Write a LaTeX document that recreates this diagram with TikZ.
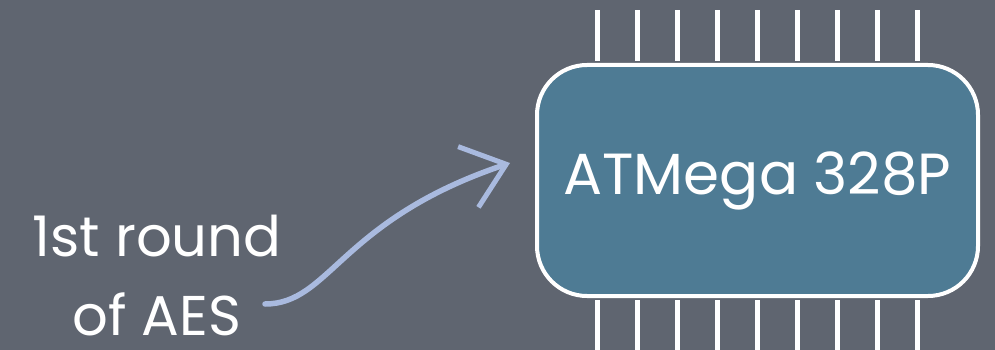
\documentclass[tikz,border=0pt]{standalone}
\usepackage{fontspec}
\setmainfont{Poppins}
\usetikzlibrary{arrows.meta}
\definecolor{bg}{HTML}{5F6570}
\definecolor{chipfill}{HTML}{4E7B94}
\definecolor{chalk}{HTML}{A9BADF}
\tikzset{
  chipbox/.style={draw=white, line width=4pt, fill=chipfill, rounded corners=50pt,
    minimum width=441pt, minimum height=231pt, inner sep=0pt,
    text=white, font=\fontsize{58}{64}\selectfont},
  pin/.style={draw=white, line width=4.5pt},
  lbl/.style={text=white, anchor=base, font=\fontsize{56}{64}\selectfont, inner sep=0pt},
  chalkarrow/.style={draw=chalk, line width=5.5pt, line cap=round,
    -{Straight Barb[length=40pt, width=64pt, line width=5pt]}}
}
\begin{document}
\begin{tikzpicture}[x=1pt, y=-1pt]
\fill[bg] (0,0) rectangle (995,350);
\useasboundingbox (0,0) rectangle (995,350);
\node[chipbox] (chip) at (757.5,180.5) {\raisebox{-3pt}{ATMega 328P}};
\foreach \dx in {-160,-120,-80,-40,0,40,80,120,160} {
  \draw[pin] ([xshift=\dx pt]chip.north) ++(0,-2) -- ++(0,-51);
  \draw[pin] ([xshift=\dx pt]chip.south) ++(0,2) -- ++(0,52);
}
\node[lbl] (label1) at (157,256) {1st round};
\node[lbl] (label2) at (157,335) {of AES};
\coordinate (s) at (265,304);
\coordinate (tip) at (510,163);
\path[chalkarrow] (s) .. controls (330,304) and (340,220) .. (tip);
\end{tikzpicture}
\end{document}
